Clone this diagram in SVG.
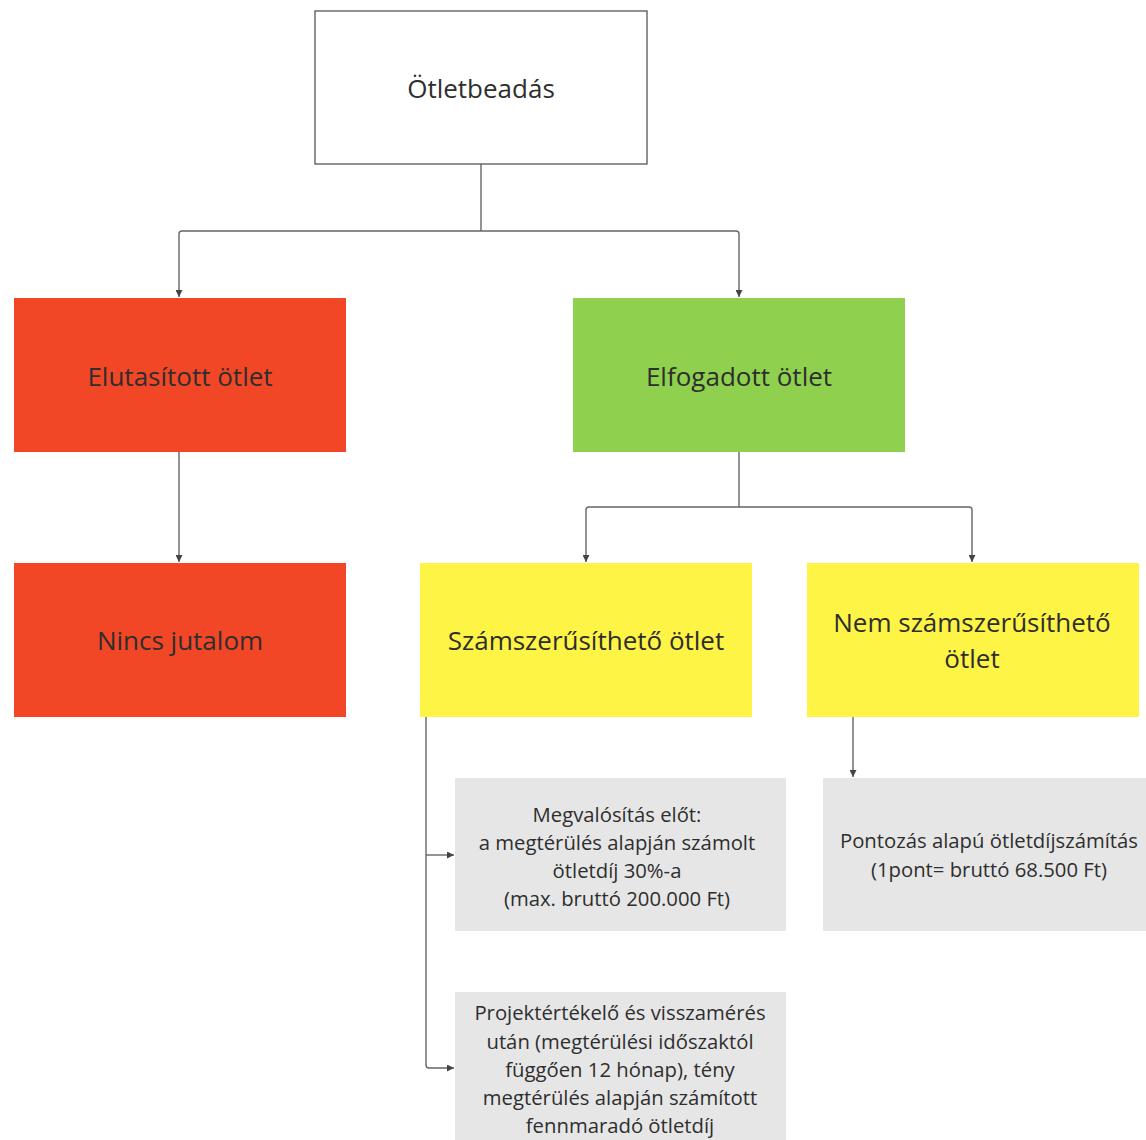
<svg xmlns="http://www.w3.org/2000/svg" width="1146" height="1140" viewBox="0 0 1146 1140">
<style>
.t{font-family:"Open Sans","Noto Sans","Liberation Sans",sans-serif;fill:#2e2e2e;text-anchor:middle}
.big{font-size:26px}
.mid{font-size:26px}
.sm{font-size:20.3px}
.c{fill:none;stroke:#666;stroke-width:1.4}
</style>
<defs>
<marker id="ah" viewBox="0 0 10 10" refX="10" refY="5" markerWidth="7" markerHeight="7" markerUnits="userSpaceOnUse" orient="auto">
<path d="M0,0 L10,5 L0,10 z" fill="#444"/>
</marker>
</defs>
<rect width="1146" height="1140" fill="#fff"/>
<g id="connectors">
<path class="c" d="M481,164 V231"/>
<path class="c" d="M481,231 H182 Q179,231 179,234 V297" marker-end="url(#ah)"/>
<path class="c" d="M481,231 H736 Q739,231 739,234 V297" marker-end="url(#ah)"/>
<path class="c" d="M179,452 V562" marker-end="url(#ah)"/>
<path class="c" d="M739,452 V507"/>
<path class="c" d="M739,507 H589 Q586,507 586,510 V562" marker-end="url(#ah)"/>
<path class="c" d="M739,507 H969 Q972,507 972,510 V562" marker-end="url(#ah)"/>
<path class="c" d="M426,717 V1065 Q426,1068 429,1068 H454" marker-end="url(#ah)"/>
<path class="c" d="M426,855 H454" marker-end="url(#ah)"/>
<path class="c" d="M853,717 V777" marker-end="url(#ah)"/>
</g>
<g id="n1">
<rect x="315" y="11" width="332" height="153" fill="#fff" stroke="#555" stroke-width="1.3"/>
<text class="t big" x="481" y="98">Ötletbeadás</text>
</g>
<g id="n2">
<rect x="14" y="298" width="332" height="154" fill="#F24726"/>
<text class="t mid" x="180" y="386">Elutasított ötlet</text>
</g>
<g id="n3">
<rect x="573" y="298" width="332" height="154" fill="#8FD14F"/>
<text class="t mid" x="739" y="386">Elfogadott ötlet</text>
</g>
<g id="n4">
<rect x="14" y="563" width="332" height="154" fill="#F24726"/>
<text class="t mid" x="180" y="650">Nincs jutalom</text>
</g>
<g id="n5">
<rect x="420" y="563" width="332" height="154" fill="#FEF445"/>
<text class="t mid" x="586" y="650">Számszerűsíthető ötlet</text>
</g>
<g id="n6">
<rect x="807" y="563" width="332" height="154" fill="#FEF445"/>
<text class="t mid" x="972" y="632">Nem számszerűsíthető</text>
<text class="t mid" x="972" y="668">ötlet</text>
</g>
<g id="n7">
<rect x="455" y="778" width="331" height="153" fill="#E6E6E6"/>
<text class="t sm" x="617" y="822">Megvalósítás előt:</text>
<text class="t sm" x="617" y="850">a megtérülés alapján számolt</text>
<text class="t sm" x="617" y="878">ötletdíj 30%-a</text>
<text class="t sm" x="617" y="906">(max. bruttó 200.000 Ft)</text>
</g>
<g id="n8">
<rect x="823" y="778" width="332" height="153" fill="#E6E6E6"/>
<text class="t sm" x="989" y="848">Pontozás alapú ötletdíjszámítás</text>
<text class="t sm" x="989" y="877">(1pont= bruttó 68.500 Ft)</text>
</g>
<g id="n9">
<rect x="455" y="992" width="331" height="160" fill="#E6E6E6"/>
<text class="t sm" x="620" y="1020">Projektértékelő és visszamérés</text>
<text class="t sm" x="620" y="1049">után (megtérülési időszaktól</text>
<text class="t sm" x="620" y="1077">függően 12 hónap), tény</text>
<text class="t sm" x="620" y="1105">megtérülés alapján számított</text>
<text class="t sm" x="620" y="1133">fennmaradó ötletdíj</text>
</g>
</svg>
